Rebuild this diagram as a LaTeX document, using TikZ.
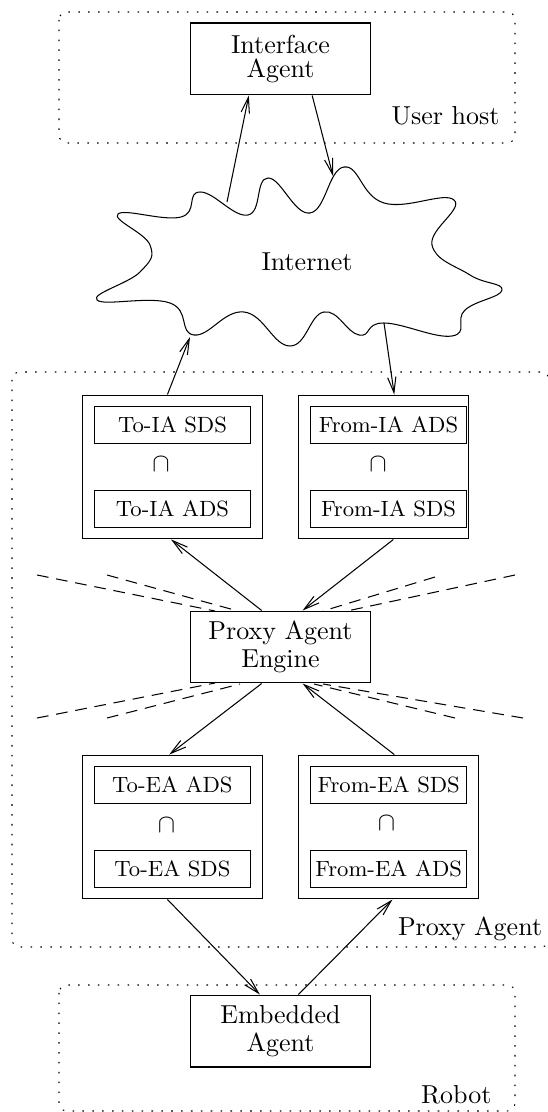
\documentclass[tikz,border=0pt]{standalone}
\usepackage{fontspec}
\usetikzlibrary{arrows.meta,calc}
% point at fraction #3 along side #2 (north/south) of node #1
\newcommand{\onedge}[3]{($(#1.#2 west)!#3!(#1.#2 east)$)}
\begin{document}
\begin{tikzpicture}[x=0.385pt, y=-0.385pt,
    >={Straight Barb[length=6pt,width=3.2pt]},
    agent/.style={draw, minimum width=69.3pt, minimum height=27.7pt, inner sep=0pt, align=center},
    holder/.style={draw, minimum width=69.3pt, minimum height=55.4pt, inner sep=0pt},
    store/.style={draw, minimum width=60pt, minimum height=13.9pt, inner sep=0pt, font=\fontsize{8.5}{10}\selectfont},
    inter/.style={inner sep=0pt},
    host/.style={dash pattern=on 0.6pt off 3.2pt, rounded corners=3pt},
    hostlabel/.style={anchor=base east, inner sep=0pt},
    boundary/.style={dash pattern=on 4.5pt off 3pt}]
  \useasboundingbox (0,0) rectangle (547,1112);

  % hosts
  \draw[host] (59,12) rectangle (515,143);
  \node[hostlabel] (userhost) at (500,125) {User host};
  \draw[host] (12,372) rectangle (549,947);
  \node[hostlabel] (proxyhost) at (542.6,935) {Proxy Agent};
  \draw[host] (59,985) rectangle (515,1111);
  \node[hostlabel] (robot) at (492,1103) {Robot};

  % agents
  \node[agent] (ia) at (280.5,59) {Interface\\[-3pt]Agent};
  \node[agent] (pae) at (280.5,647) {Proxy Agent\\[-1pt]Engine};
  \node[agent] (ea) at (280.5,1031) {Embedded\\[-1pt]Agent};

  % Internet cloud
  \draw plot[smooth cycle, tension=0.75] coordinates {
    (118,214) (181,217) (200,192) (248,215) (268,178) (310,213)
    (344,167) (384,203) (454,200) (432,245) (470,275) (502,290)
    (465,310) (452,336) (384,323) (359,335) (324,312) (290,346)
    (244,312) (194,335) (170,303) (97,300) (140,272) (150,245)};
  \node (net) at (307,262) {Internet};
  \coordinate (cup) at (227,202);
  \coordinate (cin) at (333,176);
  \coordinate (ctip) at (190,337);
  \coordinate (cdown) at (384,323);

  % data stores to/from IA
  \node[holder] (toia) at (172.3,467) {};
  \node[store] (toiasds) at (172.5,425) {To-IA SDS};
  \node[inter] (toiacap) at (161,464) {$\cap$};
  \node[store] (toiaads) at (172.5,509) {To-IA ADS};
  \node[holder, minimum width=65.5pt] (fromia) at (383.8,467) {};
  \node[store] (fromiaads) at (388.5,425) {From-IA ADS};
  \node[inter] (fromiacap) at (378,464) {$\cap$};
  \node[store] (fromiasds) at (388.5,509) {From-IA SDS};

  % data stores to/from EA
  \node[holder] (toea) at (172.5,827) {};
  \node[store] (toeaads) at (172.4,785) {To-EA ADS};
  \node[inter] (toeacap) at (166.6,825) {$\cap$};
  \node[store] (toeasds) at (172.4,869) {To-EA SDS};
  \node[holder] (fromea) at (388.5,827) {};
  \node[store] (fromeasds) at (388.7,785) {From-EA SDS};
  \node[inter] (fromeacap) at (386.4,823) {$\cap$};
  \node[store] (fromeaads) at (388.7,869) {From-EA ADS};

  % engine boundaries
  \draw[boundary] (37,575) -- (215,611);
  \draw[boundary] (107,575) -- (238,611);
  \draw[boundary] (515,575) -- (347,611);
  \draw[boundary] (435,577) -- (323,611);
  \draw[boundary] (37,718) -- (215,683);
  \draw[boundary] (107,718) -- (240,684);
  \draw[boundary] (523,718) -- (323,684);
  \draw[boundary] (455,718) -- (314,684);

  % message flow
  \draw[->] (cup) -- \onedge{ia}{south}{.325};
  \draw[->] \onedge{ia}{south}{.675} -- (cin);
  \draw[->] \onedge{toia}{north}{.473} -- (ctip);
  \draw[->] (cdown) -- \onedge{fromia}{north}{.561};
  \draw[->] \onedge{pae}{north}{.396} -- \onedge{toia}{south}{.493};
  \draw[->] \onedge{fromia}{south}{.556} -- \onedge{pae}{north}{.622};
  \draw[->] \onedge{pae}{south}{.396} -- \onedge{toea}{north}{.482};
  \draw[->] \onedge{fromea}{north}{.532} -- \onedge{pae}{south}{.622};
  \draw[->] \onedge{toea}{south}{.472} -- \onedge{ea}{north}{.386};
  \draw[->] \onedge{ea}{north}{.599} -- \onedge{fromea}{south}{.522};
\end{tikzpicture}
\end{document}
